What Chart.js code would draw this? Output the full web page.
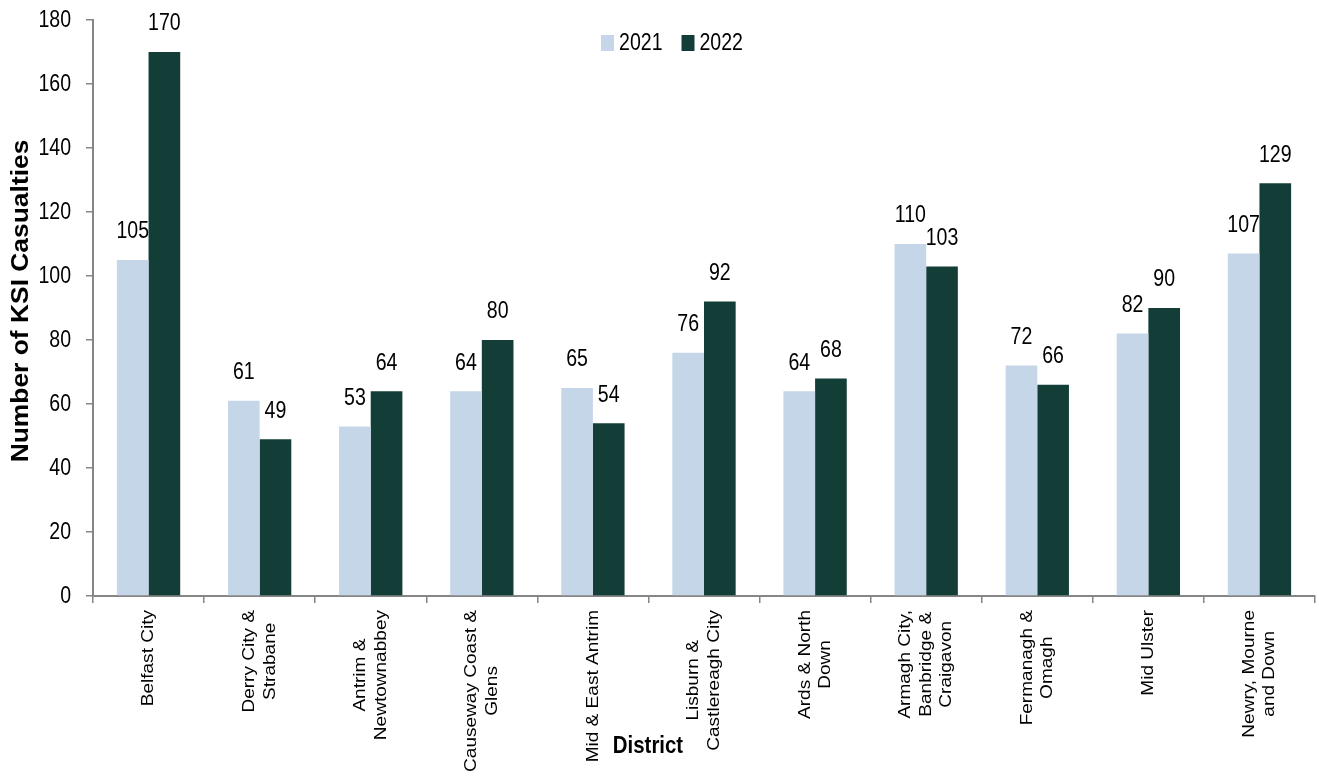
<!DOCTYPE html>
<html>
<head>
<meta charset="utf-8">
<title>KSI casualties by district</title>
<script src="https://cdn.jsdelivr.net/npm/chart.js@4.4.1/dist/chart.umd.min.js"></script>
<style>
  html, body { margin: 0; padding: 0; background: #fff; }
  canvas { display: block; }
</style>
</head>
<body>
<canvas id="ksiChart" width="1319" height="782"></canvas>
<script>
// District names, split into the lines they wrap onto
const districts = [
    ['Belfast City'],
    ['Derry City &', 'Strabane'],
    ['Antrim &', 'Newtownabbey'],
    ['Causeway Coast &', 'Glens'],
    ['Mid & East Antrim'],
    ['Lisburn &', 'Castlereagh City'],
    ['Ards & North', 'Down'],
    ['Armagh City,', 'Banbridge &', 'Craigavon'],
    ['Fermanagh &', 'Omagh'],
    ['Mid Ulster'],
    ['Newry, Mourne', 'and Down']
];

const ksi2021 = [105, 61, 53, 64, 65, 76, 64, 110, 72, 82, 107];
const ksi2022 = [170, 49, 64, 80, 54, 92, 68, 103, 66, 90, 129];

const yTicks = [0, 20, 40, 60, 80, 100, 120, 140, 160, 180];

const SANS = "'Liberation Sans', Arial, sans-serif";
const NUM_FONT = '23px ' + SANS;
const NUM_SQUEEZE = 0.85;   // numbers are set in a narrow face
const AXIS_GREY = '#868686';

// fillText with a horizontal stretch factor
function stretchedText(ctx, text, x, y, sx) {
    ctx.save();
    ctx.translate(x, y);
    ctx.scale(sx, 1);
    ctx.fillText(text, 0, 0);
    ctx.restore();
}

// value labels above each bar
const barValues = {
    id: 'barValues',
    afterDatasetsDraw(chart) {
        const ctx = chart.ctx;
        ctx.save();
        ctx.font = NUM_FONT;
        ctx.fillStyle = '#000';
        ctx.textAlign = 'center';
        ctx.textBaseline = 'middle';
        chart.data.datasets.forEach((ds, di) => {
            chart.getDatasetMeta(di).data.forEach((bar, i) => {
                stretchedText(ctx, String(ds.data[i]), bar.x, bar.y - 28, NUM_SQUEEZE);
            });
        });
        ctx.restore();
    }
};

// y tick numbers, rotated district names, axis titles and the legend
const decorations = {
    id: 'decorations',
    afterDraw(chart) {
        const ctx = chart.ctx;
        const x = chart.scales.x;
        const y = chart.scales.y;
        const area = chart.chartArea;
        const stretch = 1.12;
        const lineH = 20.5;

        ctx.save();
        ctx.fillStyle = '#000';
        ctx.textBaseline = 'middle';

        // y tick labels
        ctx.font = NUM_FONT;
        ctx.textAlign = 'right';
        yTicks.forEach(v => {
            stretchedText(ctx, String(v), area.left - 22, y.getPixelForValue(v) + 1, NUM_SQUEEZE);
        });

        ctx.textAlign = 'center';
        ctx.font = '17px ' + SANS;
        districts.forEach((lines, i) => {
            const cx = x.getPixelForValue(i);
            const w = Math.max(...lines.map(l => ctx.measureText(l).width)) * stretch;
            ctx.save();
            ctx.translate(cx, area.bottom + 14 + w / 2);
            ctx.rotate(-Math.PI / 2);
            ctx.scale(stretch, 1);
            lines.forEach((line, j) => {
                ctx.fillText(line, 0, (j - (lines.length - 1) / 2) * lineH);
            });
            ctx.restore();
        });

        // x axis title
        ctx.font = 'bold 24px ' + SANS;
        stretchedText(ctx, 'District', 648, 746, 0.85);

        // y axis title
        ctx.save();
        ctx.translate(21, 301);
        ctx.rotate(-Math.PI / 2);
        ctx.scale(1.1, 1);
        ctx.fillText('Number of KSI Casualties', 0, 0);
        ctx.restore();

        // legend
        ctx.font = NUM_FONT;
        ctx.textAlign = 'left';
        const items = chart.data.datasets.map(ds => ({
            label: ds.label,
            color: ds.backgroundColor,
            w: ctx.measureText(ds.label).width * NUM_SQUEEZE
        }));
        const boxW = 13, boxH = 16, boxGap = 5, itemGap = 19;
        const total = items.reduce((s, it) => s + boxW + boxGap + it.w, 0) + itemGap * (items.length - 1);
        let lx = 672 - total / 2;
        const ly = 43;
        items.forEach(it => {
            ctx.fillStyle = it.color;
            ctx.fillRect(lx, ly - boxH / 2, boxW, boxH);
            lx += boxW + boxGap;
            ctx.fillStyle = '#000';
            stretchedText(ctx, it.label, lx, ly + 1, NUM_SQUEEZE);
            lx += it.w + itemGap;
        });

        ctx.restore();
    }
};

new Chart(document.getElementById('ksiChart'), {
    type: 'bar',
    data: {
        labels: districts,
        datasets: [
            {
                label: '2021',
                data: ksi2021,
                backgroundColor: '#c5d6e9',
                borderWidth: 0,
                categoryPercentage: 0.57,
                barPercentage: 1
            },
            {
                label: '2022',
                data: ksi2022,
                backgroundColor: '#133e38',
                borderWidth: 0,
                categoryPercentage: 0.57,
                barPercentage: 1
            }
        ]
    },
    options: {
        responsive: false,
        animation: false,
        layout: { padding: { top: 20, right: 4, left: 0, bottom: 0 } },
        plugins: {
            legend: { display: false },
            tooltip: { enabled: false }
        },
        scales: {
            x: {
                offset: true,
                grid: {
                    offset: true,
                    drawOnChartArea: false,
                    drawTicks: true,
                    tickLength: 7,
                    color: AXIS_GREY,
                    lineWidth: 1.5
                },
                border: { color: AXIS_GREY, width: 2 },
                ticks: { display: false },
                afterFit: s => { s.height = 186; }
            },
            y: {
                min: 0,
                max: 180,
                afterBuildTicks: s => { s.ticks = yTicks.map(v => ({ value: v })); },
                grid: {
                    drawOnChartArea: false,
                    drawTicks: true,
                    tickLength: 7,
                    color: AXIS_GREY,
                    lineWidth: 1.5
                },
                border: { color: AXIS_GREY, width: 2 },
                ticks: { display: false },
                afterFit: s => { s.width = 93; }
            }
        }
    },
    plugins: [barValues, decorations]
});
</script>
</body>
</html>
